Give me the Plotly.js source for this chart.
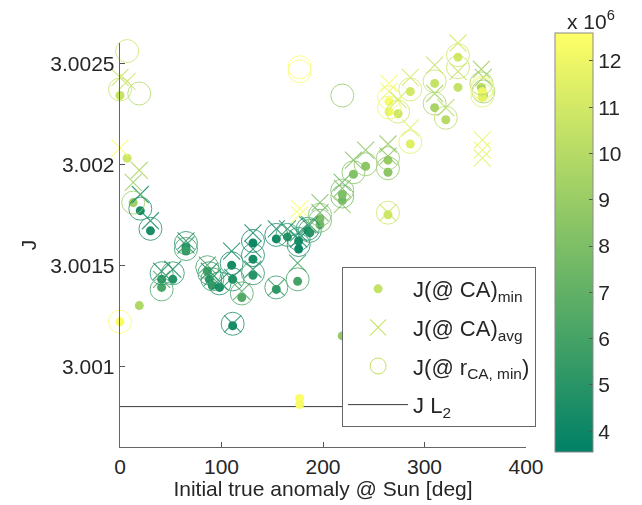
<!DOCTYPE html>
<html>
<head>
<meta charset="utf-8">
<script src="https://cdn.plot.ly/plotly-3.0.1.min.js"></script>
<style>html,body{margin:0;padding:0;background:#fff;}#chart{width:642px;height:505px;}</style>
</head>
<body>
<div id="chart"></div>
<script>
// Initial true anomaly @ Sun [deg]
const nu = [0, 0, 7, 19, 13, 20, 30, 41, 41, 52,
            65, 65, 86, 88, 91, 98, 110, 111, 111, 120,
            131, 131, 131, 154, 154, 165, 175, 176, 176, 177,
            177, 185, 187, 197, 197, 219, 219, 219, 230, 242,
            264, 264, 264, 265, 265, 274, 286, 286, 310, 310,
            321, 333, 333, 356, 358, 357, 357, 357];
// J(@ CA)_min
const jMin = [3.00122, 3.00234, 3.00203, 3.00130, 3.00181, 3.00177, 3.00167, 3.00143, 3.00139, 3.00143,
              3.00159, 3.00157, 3.00147, 3.00143, 3.00140, 3.00139, 3.00150, 3.00143, 3.00120, 3.00134,
              3.00161, 3.00153, 3.00145, 3.00138, 3.00163, 3.00164, 3.00142, 3.00162, 3.00158, 3.00084,
              3.00081, 3.00167, 3.00166, 3.00173, 3.00170, 3.00182, 3.00185, 3.00115, 3.00195, 3.00199,
              3.00202, 3.00196, 3.00175, 3.00231, 3.00226, 3.00225, 3.00236, 3.00210, 3.00240, 3.00228,
              3.00222, 3.00253, 3.00238, 3.00238, 3.00234, 3.00236, 3.00235, 3.00233];
// J(@ CA)_avg
const jAvg = [3.00208, 3.00243, 3.00241, 3.00197, 3.00191, 3.00185, 3.00172, 3.00147, 3.00143, 3.00148,
              3.00162, 3.00160, 3.00150, 3.00147, 3.00144, 3.00142, 3.00157, 3.00144, 3.00121, 3.00137,
              3.00166, 3.00158, 3.00148, 3.00139, 3.00168, 3.00168, 3.00151, 3.00166, 3.00163, 3.00178,
              3.00175, 3.00170, 3.00170, 3.00181, 3.00176, 3.00191, 3.00188, 3.00180, 3.00202, 3.00207,
              3.00210, 3.00204, 3.00176, 3.00240, 3.00236, 3.00232, 3.00243, 3.00218, 3.00249, 3.00235,
              3.00228, 3.00260, 3.00246, 3.00247, 3.00243, 3.00212, 3.00207, 3.00203];
// J(@ r_CA,min)
const jR = [3.00122, 3.00237, 3.00256, 3.00235, 3.00181, 3.00178, 3.00168, 3.00146, 3.00138, 3.00146,
            3.00161, 3.00158, 3.00149, 3.00146, 3.00143, 3.00141, 3.00151, 3.00143, 3.00121, 3.00136,
            3.00162, 3.00155, 3.00146, 3.00139, 3.00165, 3.00165, 3.00143, 3.00163, 3.00160, 3.00248,
            3.00246, 3.00168, 3.00167, 3.00175, 3.00172, 3.00184, 3.00187, 3.00234, 3.00196, 3.00200,
            3.00203, 3.00198, 3.00176, 3.00233, 3.00228, 3.00226, 3.00237, 3.00211, 3.00241, 3.00230,
            3.00223, 3.00254, 3.00248, 3.00240, 3.00236, 3.00238, 3.00237, 3.00234];
// colour value (x 10^6)
const cVal = [12.4, 10.6, 10.8, 9.8, 9.2, 4.4, 4.5, 5.0, 6.2, 4.8,
              4.8, 5.6, 6.0, 5.0, 5.5, 4.5, 4.3, 4.8, 4.5, 6.5,
              4.0, 4.3, 5.0, 5.3, 4.2, 5.0, 6.0, 4.5, 4.0, 12.5,
              12.3, 4.5, 5.0, 8.0, 7.5, 7.5, 8.0, 8.8, 8.2, 8.6,
              9.0, 8.5, 10.8, 12.3, 12.0, 10.8, 11.0, 11.5, 10.5, 9.5,
              10.0, 11.0, 10.5, 9.5, 9.0, 11.8, 12.0, 11.6];
const jL2 = 3.0008;
const lineX = [0, 400];
const xTicks = [0, 100, 200, 300, 400];
const yTickVals = [3.001, 3.0015, 3.002, 3.0025];
const yTickText = ['3.001', '3.0015', '3.002', '3.0025'];
const cbTicks = [4, 5, 6, 7, 8, 9, 10, 11, 12];

const summer = [[0, 'rgb(0,128,102)'], [1, 'rgb(255,255,102)']];
const cMin = 3.55, cMax = 12.6;
const legendColor = 'rgb(196,226,102)';
const FS = 21;

function mk(symbol, size, extra) {
  return Object.assign({
    symbol: symbol, size: size, color: cVal, colorscale: summer,
    cmin: cMin, cmax: cMax, line: {width: 1}
  }, extra || {});
}

const traces = [
  {x: lineX, y: [jL2, jL2], mode: 'lines', line: {color: '#3a3a3a', width: 1}, showlegend: false, hoverinfo: 'skip'},
  {x: nu, y: jMin, mode: 'markers', type: 'scatter', cliponaxis: false, showlegend: false,
   marker: mk('circle', 9, {line: {width: 0},
     colorbar: {
       x: 1.0714, xanchor: 'left', y: 0.506, yanchor: 'middle', len: 1.037, lenmode: 'fraction',
       thickness: 38, thicknessmode: 'pixels', ypad: 0, xpad: 0,
       outlinewidth: 1, outlinecolor: '#8a8a8a',
       tickvals: cbTicks, ticks: 'inside', ticklen: 4, tickcolor: '#555',
       tickfont: {size: FS, color: '#262626', family: 'Liberation Sans, Arial, sans-serif'}
     }})},
  {x: nu, y: jAvg, mode: 'markers', type: 'scatter', cliponaxis: false, showlegend: false,
   marker: mk('x-thin-open', 17, {line: {width: 1.1}}), opacity: 0.85},
  {x: nu, y: jR, mode: 'markers', type: 'scatter', cliponaxis: false, showlegend: false,
   marker: mk('circle-open', 23, {line: {width: 1}}), opacity: 0.8},
  // legend entries
  {x: [null], y: [null], mode: 'markers', name: 'J(@ CA)<sub>min</sub>', legendgroup: 'a',
   marker: {symbol: 'circle', size: 9, color: legendColor}},
  {x: [null], y: [null], mode: 'markers', name: 'J(@ CA)<sub>avg</sub>', legendgroup: 'b',
   marker: {symbol: 'x-thin-open', size: 17, color: legendColor, line: {width: 1.1}}},
  {x: [null], y: [null], mode: 'markers', name: 'J(@ r<sub>CA, min</sub>)', legendgroup: 'c',
   marker: {symbol: 'circle-open', size: 23, color: legendColor, line: {width: 1}}},
  {x: [null], y: [null], mode: 'lines', name: 'J L<sub>2</sub>', legendgroup: 'd',
   line: {color: '#3a3a3a', width: 1}}
];

const fontFam = 'Liberation Sans, Arial, sans-serif';
const layout = {
  width: 642, height: 505,
  margin: {l: 120, r: 116, t: 43, b: 58},
  paper_bgcolor: '#fff', plot_bgcolor: '#fff',
  font: {family: fontFam, size: FS, color: '#262626'},
  showlegend: true,
  xaxis: {
    range: [0, 400], tickvals: xTicks, ticks: 'inside', ticklen: 5, tickcolor: '#555',
    showline: true, linecolor: '#666', linewidth: 1.3, showgrid: false, zeroline: false,
    tickfont: {size: FS}, title: {text: 'Initial true anomaly @ Sun [deg]', font: {size: FS}, standoff: 4}
  },
  yaxis: {
    range: [3.0006, 3.0026], tickvals: yTickVals, ticktext: yTickText, ticks: 'inside', ticklen: 5, tickcolor: '#555',
    showline: true, linecolor: '#666', linewidth: 1.3, showgrid: false, zeroline: false,
    tickfont: {size: FS}, title: {text: 'J', font: {size: FS}, standoff: 8}
  },
  legend: {
    x: 0.547, y: 0.4455, xanchor: 'left', yanchor: 'top',
    bgcolor: '#fff', bordercolor: '#666', borderwidth: 1,
    font: {size: 22, color: '#262626'}, itemwidth: 60, tracegroupgap: 7,
    traceorder: 'grouped'
  },
  annotations: [{
    xref: 'paper', yref: 'paper', x: 1.16, y: 1.058, xanchor: 'center', yanchor: 'middle',
    text: 'x 10<sup>6</sup>', showarrow: false, font: {size: FS, color: '#262626'}
  }]
};

Plotly.newPlot('chart', traces, layout, {displayModeBar: false, staticPlot: true});
</script>
</body>
</html>
